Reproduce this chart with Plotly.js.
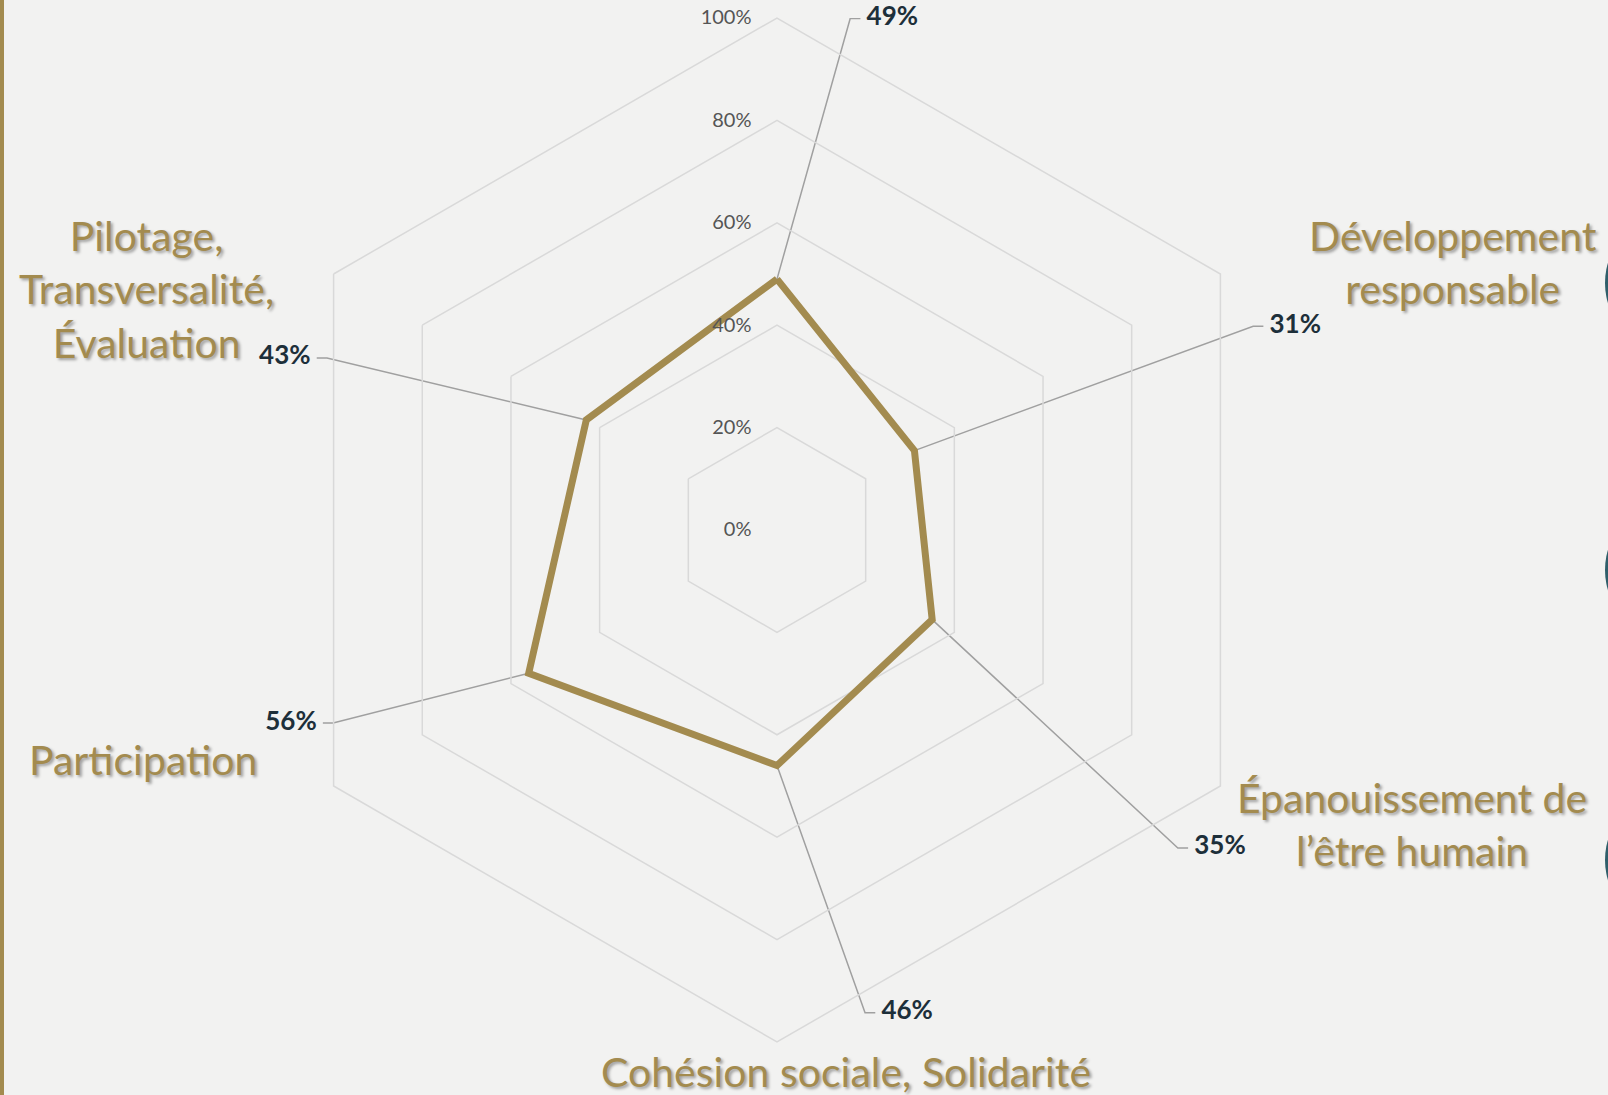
<!DOCTYPE html>
<html>
<head>
<meta charset="utf-8">
<script src="https://cdn.plot.ly/plotly-3.0.1.min.js"></script>
<style>
  html, body { margin: 0; padding: 0; background: #f2f2f1; }
  #chart { width: 1608px; height: 1095px; }
</style>
</head>
<body>
<div id="chart"></div>
<script>
// categories, clockwise from the top (the top one has no visible label)
const categories = [
    " ",
    "Développement<br>responsable",
    "Épanouissement de<br>l’être humain",
    "Cohésion sociale, Solidarité",
    "Participation",
    "Pilotage,<br>Transversalité,<br>Évaluation"
];
const scores = [49, 31, 35, 46, 56, 43];
const radialTicks = [0, 20, 40, 60, 80, 100];
const radialTickText = radialTicks.map(v => v + "%");

// callout elbows, in % of the radius (cartesian, centre = 0,0)
const calloutElbow = [[14.3, 99.9], [93, 39.8], [78.3, -62.1], [17.2, -94.3], [-86.7, -37.7], [-87.9, 33.6]];
// category label centres in paper coords
const catLabelPos = [null, [0.9036, 0.7607], [0.8781, 0.2475], [0.5261, 0.0215], [0.0889, 0.3068], [0.0908, 0.7361]];

const gold = "#a38b4f";
const gridCol = "#d9d9d9";
const domX = [0.1648, 0.8016];
const domY = [0.0484, 0.9836];

// main line
const radar = {
    type: "scatterpolar",
    r: scores.concat([scores[0]]),
    theta: categories.concat([categories[0]]),
    mode: "lines",
    line: { color: gold, width: 7 },
    hoverinfo: "skip",
    showlegend: false
};

// leader lines + value labels on an invisible cartesian overlay
let traces = [];
let lx = [], ly = [], lt = [], lpos = [];
for (let i = 0; i < scores.length; i++) {
    let ang = i * 60 * Math.PI / 180;
    let px = scores[i] * Math.sin(ang);
    let py = scores[i] * Math.cos(ang);
    let ex = calloutElbow[i][0], ey = calloutElbow[i][1];
    let dir = ex >= 0 ? 1 : -1;
    traces.push({
        type: "scatter", x: [px, ex, ex + dir * 2], y: [py, ey, ey],
        mode: "lines", line: { color: "#a0a0a0", width: 1.5 },
        cliponaxis: false, hoverinfo: "skip", showlegend: false
    });
    lx.push(ex + dir * 3.2);
    ly.push(ey);
    lt.push("<b>" + scores[i] + "%</b>");
    lpos.push(dir > 0 ? "middle right" : "middle left");
}
traces.push({
    type: "scatter", x: lx, y: ly, text: lt, textposition: lpos,
    mode: "text", cliponaxis: false,
    textfont: { family: "Lato", size: 26, color: "#1d2f3a" },
    hoverinfo: "skip", showlegend: false
});
traces.push(radar);

let annotations = [];
for (let i = 0; i < categories.length; i++) {
    if (!catLabelPos[i]) continue;
    annotations.push({
        xref: "paper", yref: "paper",
        x: catLabelPos[i][0], y: catLabelPos[i][1],
        xanchor: "center", yanchor: "middle", align: "center",
        text: categories[i], showarrow: false,
        font: { family: "Lato", size: 41, color: gold, shadow: "2px 2px 3px rgba(0,0,0,0.35)" }
    });
}

const layout = {
    width: 1608, height: 1095,
    margin: { l: 0, r: 0, t: 0, b: 0 },
    paper_bgcolor: "#f2f2f1",
    plot_bgcolor: "rgba(0,0,0,0)",
    hovermode: false,
    showlegend: false,
    polar: {
        domain: { x: domX, y: domY },
        bgcolor: "rgba(0,0,0,0)",
        gridshape: "linear",
        radialaxis: {
            range: [0, 100], tickmode: "array", tickvals: radialTicks, ticktext: radialTickText,
            angle: 90, tickangle: 90, side: "counterclockwise",
            showline: false, ticks: "outside", ticklen: 18, tickcolor: "rgba(0,0,0,0)",
            gridcolor: gridCol, gridwidth: 1.5,
            tickfont: { family: "Lato", size: 20, color: "#555555" }
        },
        angularaxis: {
            direction: "clockwise", rotation: 90,
            showgrid: false, showticklabels: false, ticks: "",
            showline: true, linecolor: gridCol, linewidth: 1.5
        }
    },
    xaxis: { domain: domX, range: [-100, 100], visible: false, fixedrange: true },
    yaxis: { domain: domY, range: [-100, 100], visible: false, fixedrange: true },
    annotations: annotations,
    shapes: [
        { type: "rect", xref: "paper", yref: "paper", x0: 0, x1: 4 / 1608, y0: 0, y1: 1, fillcolor: gold, line: { width: 0 } },
        { type: "circle", xref: "paper", yref: "paper", x0: 1605 / 1608, x1: 1745 / 1608, y0: (1095 - 353) / 1095, y1: (1095 - 213) / 1095, fillcolor: "#2f5e6a", line: { width: 0 } },
        { type: "circle", xref: "paper", yref: "paper", x0: 1605 / 1608, x1: 1745 / 1608, y0: (1095 - 640) / 1095, y1: (1095 - 500) / 1095, fillcolor: "#2f5e6a", line: { width: 0 } },
        { type: "circle", xref: "paper", yref: "paper", x0: 1605 / 1608, x1: 1745 / 1608, y0: (1095 - 930) / 1095, y1: (1095 - 790) / 1095, fillcolor: "#2f5e6a", line: { width: 0 } }
    ]
};

Plotly.newPlot("chart", traces, layout, { displayModeBar: false, staticPlot: true });
</script>
</body>
</html>
